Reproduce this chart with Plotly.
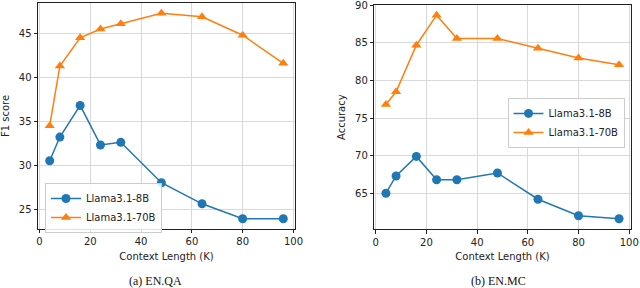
import plotly.graph_objects as go

context_k = [4, 8, 16, 24, 32, 48, 64, 80, 96]
qa_8b = [30.5, 33.2, 36.8, 32.3, 32.6, 28.0, 25.6, 23.9, 23.9]
qa_70b = [34.5, 41.3, 44.5, 45.5, 46.1, 47.3, 46.9, 44.8, 41.6]
mc_8b = [65.0, 67.3, 69.9, 66.8, 66.8, 67.7, 64.2, 62.0, 61.6]
mc_70b = [76.8, 78.5, 84.7, 88.7, 85.6, 85.6, 84.3, 83.0, 82.1]

x_ticks = [0, 20, 40, 60, 80, 100]
qa_yticks = [25, 30, 35, 40, 45]
mc_yticks = [65, 70, 75, 80, 85, 90]

BLUE = "#1f77b4"
ORANGE = "#ff7f0e"
FONT = "DejaVu Sans"

fig = go.Figure()

def add(x, y, name, color, symbol, xa, ya, legend, show=True):
    fig.add_trace(go.Scatter(
        x=x, y=y, name=name, mode="lines+markers",
        line=dict(color=color, width=1.5),
        marker=dict(color=color, symbol=symbol, size=9, line=dict(width=0)),
        xaxis=xa, yaxis=ya, legend=legend, showlegend=show))

add(context_k, qa_8b, "Llama3.1-8B", BLUE, "circle", "x", "y", "legend")
add(context_k, qa_70b, "Llama3.1-70B", ORANGE, "triangle-up", "x", "y", "legend")
add(context_k, mc_8b, "Llama3.1-8B", BLUE, "circle", "x2", "y2", "legend2")
add(context_k, mc_70b, "Llama3.1-70B", ORANGE, "triangle-up", "x2", "y2", "legend2")

axis_common = dict(
    showline=True, mirror=True, linecolor="#222", linewidth=1,
    showgrid=True, gridcolor="#d9d9d9", gridwidth=1,
    ticks="outside", ticklen=3.5, tickcolor="#222", tickwidth=0.8,
    tickfont=dict(family=FONT, size=10, color="#222"),
    zeroline=False, automargin=False, ticklabeloverflow="allow",
)
title_font = dict(family=FONT, size=10, color="#222")

fig.update_layout(
    width=640, height=288,
    margin=dict(l=0, r=0, t=0, b=0, autoexpand=False),
    paper_bgcolor="white", plot_bgcolor="white",
    xaxis=dict(domain=[0.0594, 0.4609], range=[-0.6, 100.6], tickvals=x_ticks,
               anchor="y",
               title=dict(text="Context Length (K)", font=title_font, standoff=6),
               **axis_common),
    yaxis=dict(domain=[0.2049, 0.9896], range=[22.73, 48.47], tickvals=qa_yticks,
               anchor="x",
               title=dict(text="F1 score", font=title_font, standoff=7),
               **axis_common),
    xaxis2=dict(domain=[0.5848, 0.9855], range=[-0.6, 100.6], tickvals=x_ticks,
                anchor="y2",
                title=dict(text="Context Length (K)", font=title_font, standoff=6),
                **axis_common),
    yaxis2=dict(domain=[0.2038, 0.9826], range=[60.2, 90.05], tickvals=mc_yticks,
                anchor="x2",
                title=dict(text="Accuracy", font=title_font, standoff=7),
                **axis_common),
    legend=dict(x=0.0703, y=0.3646, xanchor="left", yanchor="top",
                bgcolor="rgba(255,255,255,0.85)", bordercolor="#cccccc", borderwidth=1,
                font=dict(family=FONT, size=10, color="#222"), tracegroupgap=0,
                itemwidth=30),
    legend2=dict(x=0.793, y=0.660, xanchor="left", yanchor="top",
                 bgcolor="rgba(255,255,255,0.85)", bordercolor="#cccccc", borderwidth=1,
                 font=dict(family=FONT, size=10, color="#222"), tracegroupgap=0,
                 itemwidth=30),
    annotations=[
        dict(text="(a) EN.QA", x=155/640, y=1-281/288, xref="paper", yref="paper",
             showarrow=False, xanchor="center", yanchor="middle",
             font=dict(family="Liberation Serif", size=12, color="#111")),
        dict(text="(b) EN.MC", x=498/640, y=1-281/288, xref="paper", yref="paper",
             showarrow=False, xanchor="center", yanchor="middle",
             font=dict(family="Liberation Serif", size=12, color="#111")),
    ],
)

fig.write_html("out.html", config={"displayModeBar": False},
               post_script="document.body.style.margin='0';")
